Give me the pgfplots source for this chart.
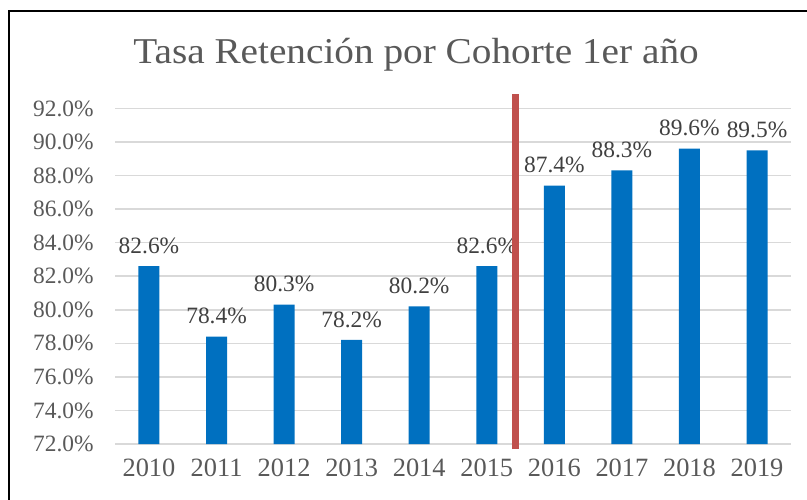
\documentclass[border=0pt]{standalone}
\usepackage{fontspec}
\setmainfont{Liberation Serif}
\newfontfamily\titlefont[FakeStretch=1.08]{Liberation Serif}
\usepackage{pgfplots}
\pgfplotsset{compat=1.18}
\definecolor{barblue}{HTML}{0070C0}
\definecolor{redline}{HTML}{C0504D}
\definecolor{gridgray}{HTML}{D9D9D9}
\definecolor{ticktext}{HTML}{595959}
\definecolor{valtext}{HTML}{404040}
\begin{document}
\begin{tikzpicture}
\path[use as bounding box] (0,0) rectangle (807bp,500bp);
\draw[black, line width=2bp] (9bp,0) -- (9bp,489bp) -- (807bp,489bp);
\node[anchor=base, text=ticktext, font=\titlefont\fontsize{36.5}{40}\selectfont, inner sep=0pt] at (416bp,436bp) {Tasa Retención por Cohorte 1er año};
\begin{axis}[
  at={(115.2bp,56bp)}, anchor=south west,
  scale only axis, width=675.6bp, height=335.6bp,
  xmin=-0.5, xmax=9.5, ymin=72, ymax=92,
  axis line style={draw=none},
  major tick length=0pt,
  xtick={0,1,2,3,4,5,6,7,8,9},
  xticklabels={2010,2011,2012,2013,2014,2015,2016,2017,2018,2019},
  ytick={72,74,76,78,80,82,84,86,88,90,92},
  yticklabels={72.0\%,74.0\%,76.0\%,78.0\%,80.0\%,82.0\%,84.0\%,86.0\%,88.0\%,90.0\%,92.0\%},
  ymajorgrids, grid style={gridgray, line width=1.5bp},
  yticklabel style={font=\fontsize{23.5}{28}\selectfont, text=ticktext, xshift=-18bp},
  xticklabel style={font=\fontsize{26.5}{30}\selectfont, text=ticktext, yshift=-11bp},
]
\addplot[ybar, bar width=21bp, fill=barblue, draw=none,
  point meta=explicit symbolic, nodes near coords,
  nodes near coords style={font=\fontsize{23.5}{28}\selectfont, text=valtext, yshift=9bp}]
  coordinates {
  (0,82.6) [82.6\%]
  (1,78.4) [78.4\%]
  (2,80.3) [80.3\%]
  (3,78.2) [78.2\%]
  (4,80.2) [80.2\%]
  (5,82.6) [82.6\%]
  (6,87.4) [87.4\%]
  (7,88.3) [88.3\%]
  (8,89.6) [89.6\%]
  (9,89.5) [89.5\%]
  };
\end{axis}
\begin{axis}[
  at={(115.2bp,56bp)}, anchor=south west,
  scale only axis, width=675.6bp, height=335.6bp,
  xmin=-0.5, xmax=9.5, ymin=72, ymax=92,
  hide axis, clip=false,
]
\addplot[redline, line width=7bp] coordinates {(5.42,71.7) (5.42,92.85)};
\end{axis}
\end{tikzpicture}
\end{document}
